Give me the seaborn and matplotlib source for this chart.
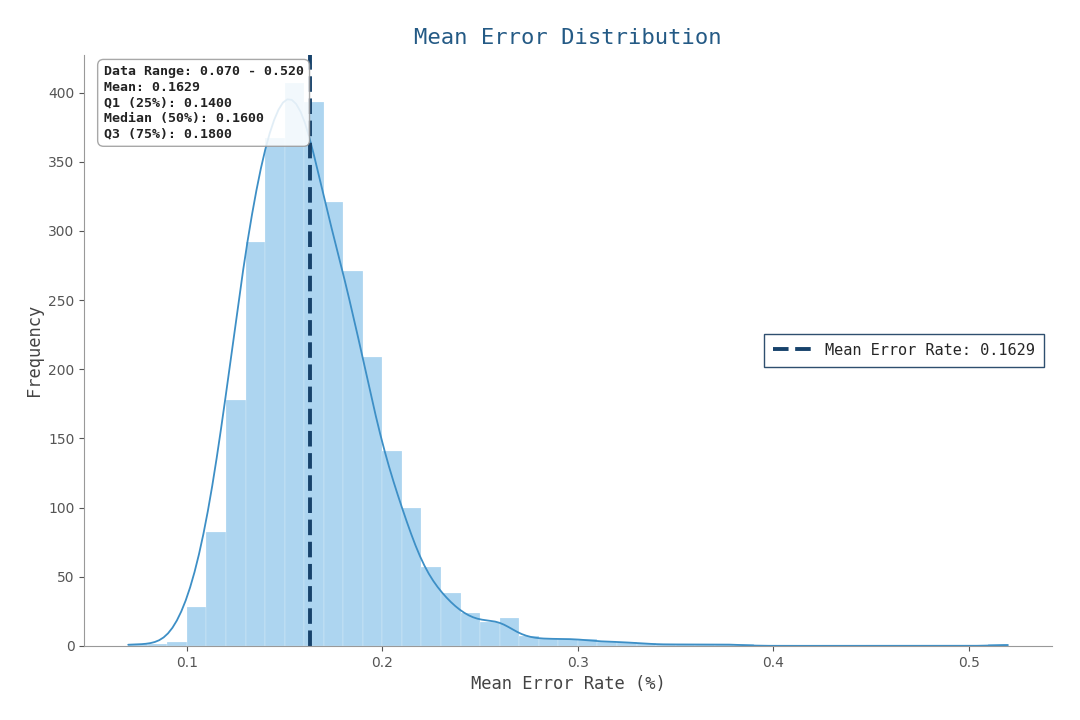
import numpy as np
import matplotlib
matplotlib.use("Agg")
import matplotlib.pyplot as plt
import seaborn as sns

# error values are recorded to 2 decimals; how often each one occurs
# (read off the bar heights, 0.07 .. 0.52 in steps of 0.01)
rate_start = 0.07
rate_step = 0.01
counts = [1, 1, 3, 28, 82, 178, 292, 367, 407, 393, 321, 271, 209, 141, 100,
          57, 38, 24, 17, 20, 7, 5, 5, 5, 3, 3, 2, 1, 1, 1, 1, 1,
          0, 0, 0, 0, 0, 0, 0, 0, 0, 0, 0, 0, 0, 1]

# summary stats shown in the box
data_min = 0.070
data_max = 0.520
mean_rate = 0.1629
q1 = 0.1400
median = 0.1600
q3 = 0.1800

rates = np.round(rate_start + rate_step * np.arange(len(counts)), 2)
errors = np.repeat(rates, counts)
bin_edges = [float(r) for r in rates]

sns.set_style("ticks")
mono = "DejaVu Sans Mono"

fig = plt.figure(figsize=(10.8, 7.2), dpi=100)
ax = fig.add_axes([0.078, 0.103, 0.896, 0.821])

sns.histplot(x=errors, bins=bin_edges, kde=True,
             color="#5DADE2", alpha=0.5, edgecolor="white", linewidth=0.15,
             line_kws={"linewidth": 1.3}, ax=ax)
ax.lines[0].set_color("#3d8fc6")

ax.axvline(mean_rate, color="#17426b", linestyle="--", linewidth=2.8,
           dashes=(4, 1.7), label=f"Mean Error Rate: {mean_rate:.4f}")

ax.set_title("Mean Error Distribution", fontsize=16, color="#245a85",
             family=mono, pad=8)
ax.set_xlabel("Mean Error Rate (%)", fontsize=12.3, color="#444444", family=mono)
ax.set_ylabel("Frequency", fontsize=12.3, color="#444444", family=mono)

sns.despine(ax=ax)
for s in ["left", "bottom"]:
    ax.spines[s].set_color("#999999")
ax.tick_params(colors="#555555", labelsize=10)
ax.set_xticks([0.1, 0.2, 0.3, 0.4, 0.5])

stats_text = (f"Data Range: {data_min:.3f} - {data_max:.3f}\n"
              f"Mean: {mean_rate:.4f}\n"
              f"Q1 (25%): {q1:.4f}\n"
              f"Median (50%): {median:.4f}\n"
              f"Q3 (75%): {q3:.4f}")
ax.text(0.02, 0.982, stats_text, transform=ax.transAxes, va="top", ha="left",
        fontsize=9.5, family=mono, fontweight="bold", color="#222222",
        linespacing=1.25,
        bbox=dict(boxstyle="round,pad=0.45", facecolor="white", alpha=0.85,
                  edgecolor="#999999"))

leg = ax.legend(loc="center right", fancybox=False, framealpha=1,
                borderpad=0.6, handlelength=2.6,
                prop={"family": mono, "size": 11})
leg.get_frame().set_edgecolor("#2f4f6f")

plt.savefig("out.png", dpi=100)
